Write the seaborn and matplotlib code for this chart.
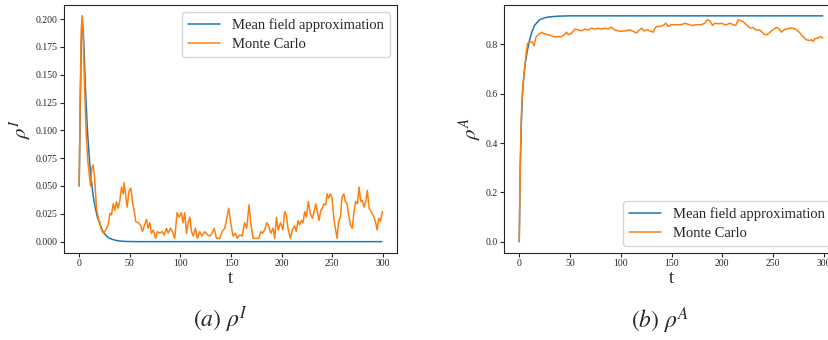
import numpy as np
import pandas as pd
import matplotlib
matplotlib.use("Agg")
import matplotlib.pyplot as plt
import seaborn as sns

# ---------------- data ----------------
# (a) rho^I : mean field approximation
mf_I_t = [0, 1, 2, 3, 4, 5, 6, 8, 10, 12, 14, 16, 18, 20, 22, 24, 27, 30, 33,
          36, 40, 45, 50, 60, 80, 150, 299]
mf_I_v = [0.05, 0.12, 0.175, 0.198, 0.19, 0.168, 0.142, 0.102, 0.075, 0.055,
          0.04, 0.03, 0.022, 0.017, 0.012, 0.0085, 0.005, 0.003, 0.002,
          0.0012, 0.0006, 0.0002, 0.0001, 0.0, 0.0, 0.0, 0.0]

# (a) rho^I : Monte Carlo
mc_I_t = [0, 1, 2, 3, 4, 5, 6, 7, 8.6, 9.6, 11.2, 12.5, 13.8, 15.2, 17.1, 19.4,
          20.4, 21.5, 23.7, 26.3, 28.6, 30.3, 31.9, 33.6, 35.2, 36.9, 38.5,
          40.2, 41.8, 43.5, 44.4, 46.1, 47.4, 49.1, 51.0, 52.7, 54.3, 55.9,
          58.3, 60.6, 62.5, 64.2, 66.5, 68.1, 69.8, 71.4, 73.1, 75.4, 77.3,
          79.6, 81.9, 83.9, 86.2, 87.9, 90.2, 92.1, 94.4, 96.7, 98.7, 101.0,
          102.6, 104.3, 106.0, 107.6, 109.3, 111.0, 112.6, 114.8, 116.8,
          119.1, 121.4, 124.0, 126.7, 129.0, 131.3, 133.3, 135.6, 138.9,
          141.2, 143.8, 145.4, 147.7, 149.7, 152.0, 154.3, 156.3, 158.6,
          160.9, 163.5, 165.5, 167.8, 169.5, 171.8, 175.1, 177.4, 179.4,
          181.0, 183.3, 185.3, 187.3, 189.3, 191.6, 193.2, 194.9, 196.6,
          198.9, 199.7, 201.3, 203.0, 204.6, 206.3, 208.6, 210.6, 212.9,
          214.5, 216.2, 217.8, 219.5, 221.1, 222.8, 224.4, 226.4, 228.4,
          230.4, 232.4, 233.7, 235.3, 237.0, 238.6, 240.3, 241.9, 243.6,
          244.9, 246.5, 248.2, 249.8, 251.5, 253.1, 254.8, 256.4, 258.1,
          259.7, 261.4, 263.0, 264.7, 266.0, 268.0, 269.9, 271.2, 273.2,
          274.9, 276.5, 278.2, 279.8, 281.4, 283.1, 284.7, 286.4, 288.0,
          289.7, 291.3, 293.0, 294.3, 296.0, 297.6, 299.6]
mc_I_v = [0.05, 0.13, 0.19, 0.203, 0.185, 0.15, 0.12, 0.095, 0.072, 0.063,
          0.05, 0.066, 0.069, 0.058, 0.03, 0.019, 0.018, 0.012, 0.0075, 0.0105,
          0.015, 0.0255, 0.024, 0.034, 0.028, 0.036, 0.030, 0.037, 0.049,
          0.043, 0.053, 0.040, 0.031, 0.045, 0.048, 0.035, 0.028, 0.018,
          0.017, 0.015, 0.009, 0.014, 0.020, 0.012, 0.017, 0.0075, 0.0105,
          0.003, 0.009, 0.0075, 0.009, 0.006, 0.012, 0.0075, 0.012, 0.009,
          0.003, 0.026, 0.022, 0.026, 0.017, 0.026, 0.0075, 0.017, 0.022,
          0.009, 0.005, 0.012, 0.003, 0.009, 0.005, 0.009, 0.006, 0.005,
          0.0075, 0.012, 0.003, 0.003, 0.009, 0.012, 0.019, 0.030, 0.017,
          0.005, 0.0075, 0.003, 0.006, 0.005, 0.017, 0.012, 0.033, 0.017,
          0.003, 0.003, 0.003, 0.009, 0.0075, 0.0105, 0.017, 0.014, 0.0075,
          0.012, 0.003, 0.022, 0.0105, 0.017, 0.015, 0.0105, 0.027, 0.024,
          0.012, 0.003, 0.0105, 0.014, 0.009, 0.019, 0.015, 0.019, 0.017,
          0.027, 0.022, 0.036, 0.025, 0.021, 0.028, 0.034, 0.027, 0.019,
          0.028, 0.030, 0.034, 0.033, 0.043, 0.039, 0.043, 0.039, 0.022,
          0.012, 0.003, 0.019, 0.022, 0.040, 0.043, 0.036, 0.034, 0.025,
          0.015, 0.012, 0.025, 0.036, 0.034, 0.049, 0.036, 0.037, 0.031,
          0.036, 0.046, 0.030, 0.028, 0.025, 0.022, 0.017, 0.0105, 0.021,
          0.018, 0.027]

# (b) rho^A : mean field approximation
mf_A_t = [0, 1, 2, 3, 4, 5, 6, 8, 10, 12, 15, 20, 25, 30, 40, 50, 150, 299]
mf_A_v = [0.0, 0.30, 0.47, 0.58, 0.645, 0.69, 0.725, 0.775, 0.815, 0.845,
          0.877, 0.900, 0.908, 0.912, 0.915, 0.916, 0.916, 0.916]

# (b) rho^A : Monte Carlo
mc_A_t = [0, 1, 2, 3, 4, 5, 6, 7, 8.3, 10.6, 12.9, 14.6, 16.5, 18.8, 22.1,
          25.3, 28.6, 31.9, 35.2, 38.4, 41.7, 44.3, 46.6, 48.2, 51.5, 54.8,
          58.0, 61.3, 64.6, 67.9, 71.2, 74.4, 77.7, 81.0, 84.3, 87.5, 90.8,
          94.1, 97.4, 99.1, 104.0, 109.0, 112.3, 115.5, 117.2, 120.5, 122.8,
          125.4, 128.7, 132.0, 133.7, 135.3, 138.5, 141.8, 144.4, 146.7,
          150.0, 154.9, 159.8, 163.1, 166.4, 169.7, 174.6, 179.5, 182.8,
          185.1, 187.8, 190.4, 192.7, 196.0, 199.3, 202.5, 204.2, 207.4,
          210.7, 213.3, 215.7, 218.0, 220.6, 223.2, 225.5, 227.8, 230.4,
          233.1, 236.3, 238.6, 240.9, 243.6, 246.2, 248.5, 251.1, 253.4,
          256.0, 258.3, 260.9, 263.2, 266.5, 269.8, 273.1, 275.7, 278.0,
          280.3, 282.9, 285.6, 287.9, 289.5, 291.2, 294.4, 297.1, 299.0]
mc_A_v = [0.0, 0.30, 0.50, 0.60, 0.65, 0.69, 0.73, 0.77, 0.805, 0.81, 0.81,
          0.795, 0.83, 0.84, 0.849, 0.842, 0.839, 0.835, 0.83, 0.832, 0.832,
          0.839, 0.85, 0.839, 0.845, 0.862, 0.859, 0.855, 0.862, 0.859,
          0.866, 0.862, 0.866, 0.862, 0.866, 0.863, 0.87, 0.859, 0.855,
          0.853, 0.855, 0.859, 0.853, 0.846, 0.855, 0.866, 0.855, 0.859,
          0.855, 0.85, 0.866, 0.873, 0.873, 0.877, 0.886, 0.873, 0.88, 0.88,
          0.88, 0.886, 0.882, 0.877, 0.88, 0.88, 0.886, 0.90, 0.896, 0.877,
          0.886, 0.884, 0.886, 0.88, 0.88, 0.886, 0.88, 0.877, 0.90, 0.896,
          0.893, 0.882, 0.873, 0.866, 0.869, 0.859, 0.859, 0.853, 0.842,
          0.839, 0.846, 0.855, 0.863, 0.869, 0.863, 0.85, 0.859, 0.863,
          0.866, 0.866, 0.859, 0.85, 0.839, 0.828, 0.819, 0.816, 0.819,
          0.812, 0.823, 0.826, 0.832, 0.826]

x_ticks = [0, 50, 100, 150, 200, 250, 300]
yI_ticks = [0.0, 0.025, 0.05, 0.075, 0.1, 0.125, 0.15, 0.175, 0.2]
yA_ticks = [0.0, 0.2, 0.4, 0.6, 0.8]

# ---------------- style ----------------
sns.set_theme(style="ticks")
plt.rcParams["font.family"] = ["Liberation Serif", "DejaVu Serif"]
plt.rcParams["mathtext.fontset"] = "stix"
plt.rcParams["axes.linewidth"] = 0.8
plt.rcParams["xtick.major.width"] = 0.8
plt.rcParams["ytick.major.width"] = 0.8
plt.rcParams["xtick.major.size"] = 2.6
plt.rcParams["ytick.major.size"] = 2.6

BLUE = "#1f77b4"
ORANGE = "#ff7f0e"

fig = plt.figure(figsize=(8.29, 3.40), dpi=100)
ax1 = fig.add_axes([64 / 829, 87 / 340, 333 / 829, 248 / 340])
ax2 = fig.add_axes([504 / 829, 87 / 340, 334 / 829, 248.5 / 340])

dfs = [
    (ax1, pd.DataFrame({"t": mf_I_t, "v": mf_I_v}), pd.DataFrame({"t": mc_I_t, "v": mc_I_v})),
    (ax2, pd.DataFrame({"t": mf_A_t, "v": mf_A_v}), pd.DataFrame({"t": mc_A_t, "v": mc_A_v})),
]
for ax, mf, mc in dfs:
    sns.lineplot(data=mf, x="t", y="v", ax=ax, color=BLUE, lw=1.1,
                 label="Mean field approximation")
    sns.lineplot(data=mc, x="t", y="v", ax=ax, color=ORANGE, lw=1.1,
                 label="Monte Carlo")
    ax.set_xlim(-15, 314)
    ax.set_xticks(x_ticks)
    ax.tick_params(labelsize=7, pad=2)
    ax.set_xlabel("t", fontsize=13, labelpad=1)

ax1.set_ylim(-0.0102, 0.2126)
ax1.set_yticks(yI_ticks)
ax1.set_yticklabels([f"{v:.3f}" for v in yI_ticks])
ax1.set_ylabel(r"$\rho^I$", fontsize=15, labelpad=1)
ax1.legend(loc="upper right", fontsize=10.5, handlelength=2.2,
           frameon=True, fancybox=True, framealpha=0.8, edgecolor="#cccccc",
           borderpad=0.4, labelspacing=0.4)

ax2.set_ylim(-0.046, 0.962)
ax2.set_yticks(yA_ticks)
ax2.set_yticklabels([f"{v:.1f}" for v in yA_ticks])
ax2.set_ylabel(r"$\rho^A$", fontsize=15, labelpad=1)
ax2.legend(loc="lower right", fontsize=10.5, handlelength=2.2,
           frameon=True, fancybox=True, framealpha=0.8, edgecolor="#cccccc",
           borderpad=0.4, labelspacing=0.4)

fig.text(221 / 829, 1 - 320 / 340, r"$(a)\ \rho^I$", fontsize=17,
         ha="center", va="center")
fig.text(660 / 829, 1 - 320 / 340, r"$(b)\ \rho^A$", fontsize=17,
         ha="center", va="center")

fig.savefig("out.png", dpi=100)
